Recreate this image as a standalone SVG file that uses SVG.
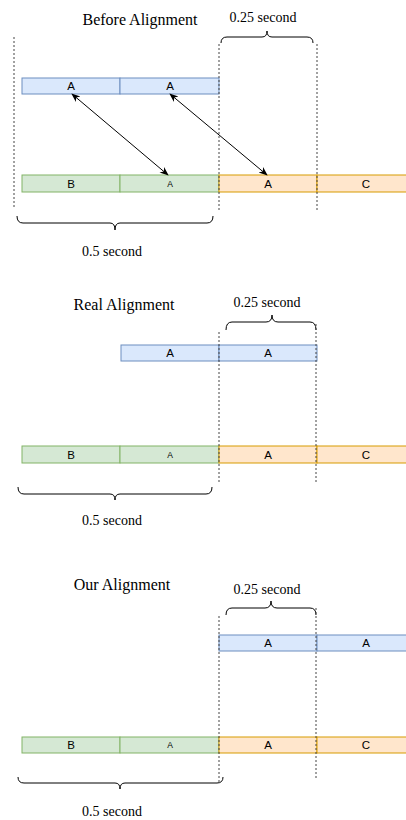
<svg xmlns="http://www.w3.org/2000/svg" width="406" height="820" viewBox="0 0 406 820">
<defs>
<style>
.title{font-family:"Liberation Serif","Times New Roman",serif;font-size:16px;fill:#000;text-anchor:middle}
.lbl{font-family:"Liberation Serif","Times New Roman",serif;font-size:14px;fill:#000;text-anchor:middle}
.cell{font-family:"Liberation Sans",Arial,sans-serif;font-size:11.5px;fill:#000;text-anchor:middle}
.small{font-family:"Liberation Sans",Arial,sans-serif;font-size:8.5px;fill:#000;text-anchor:middle}
.blue{fill:#dae8fc;stroke:#6c8ebf;stroke-width:1}
.green{fill:#d5e8d4;stroke:#82b366;stroke-width:1}
.orange{fill:#ffe6cc;stroke:#d79b00;stroke-width:1}
.dot{stroke:#444;stroke-width:1;stroke-dasharray:2 2;fill:none}
.brace{stroke:#000;stroke-width:1;fill:none}
.arrow{stroke:#000;stroke-width:1;fill:none;marker-start:url(#ah);marker-end:url(#ah)}
</style>
<marker id="ah" viewBox="0 0 10 10" refX="9" refY="5" markerWidth="9" markerHeight="9" orient="auto-start-reverse" markerUnits="userSpaceOnUse">
<path d="M0,1 L10,5 L0,9 L3,5 Z" fill="#000"/>
</marker>
</defs>

<!-- Section 1: Before Alignment -->
<g id="title1"><text class="title" x="140" y="25">Before Alignment</text></g>
<g id="label1-025"><text class="lbl" x="263" y="22">0.25 second</text></g>
<g id="brace1-top"><path class="brace" d="M221,43 Q221,37 227,37 L262,37 Q267,37 267,31 Q267,37 272,37 L307,37 Q313,37 313,43"/></g>
<g id="s1-blue-1"><rect class="blue" x="22" y="78" width="98" height="16"/><text class="cell" x="71" y="90">A</text></g>
<g id="s1-blue-2"><rect class="blue" x="120" y="78" width="99" height="16"/><text class="cell" x="170" y="90">A</text></g>
<g id="s1-green-B"><rect class="green" x="22" y="175" width="98" height="17"/><text class="cell" x="71" y="188">B</text></g>
<g id="s1-green-A"><rect class="green" x="120" y="175" width="99" height="17"/><text class="small" x="170" y="187">A</text></g>
<g id="s1-orange-A"><rect class="orange" x="219" y="175" width="98" height="17"/><text class="cell" x="268" y="188">A</text></g>
<g id="s1-orange-C"><rect class="orange" x="317" y="175" width="100" height="17"/><text class="cell" x="366" y="188">C</text></g>
<g id="brace1-bottom"><path class="brace" d="M17,216 Q17,223 23,223 L110,223 Q115,223 115,230 Q115,223 120,223 L207,223 Q213,223 213,216"/></g>
<g id="label1-05"><text class="lbl" x="112" y="256">0.5 second</text></g>

<!-- Section 2: Real Alignment -->
<g id="title2"><text class="title" x="124" y="310">Real Alignment</text></g>
<g id="label2-025"><text class="lbl" x="267" y="307">0.25 second</text></g>
<g id="brace2-top"><path class="brace" d="M226,330 Q226,322 232,322 L266,322 Q272,322 272,315 Q272,322 278,322 L310,322 Q316,322 316,330"/></g>
<g id="s2-blue-1"><rect class="blue" x="121" y="345" width="98" height="16"/><text class="cell" x="170" y="357">A</text></g>
<g id="s2-blue-2"><rect class="blue" x="219" y="345" width="98" height="16"/><text class="cell" x="268" y="357">A</text></g>
<g id="s2-green-B"><rect class="green" x="22" y="446" width="98" height="17"/><text class="cell" x="71" y="459">B</text></g>
<g id="s2-green-A"><rect class="green" x="120" y="446" width="99" height="17"/><text class="small" x="170" y="458">A</text></g>
<g id="s2-orange-A"><rect class="orange" x="219" y="446" width="98" height="17"/><text class="cell" x="268" y="459">A</text></g>
<g id="s2-orange-C"><rect class="orange" x="317" y="446" width="100" height="17"/><text class="cell" x="366" y="459">C</text></g>
<g id="brace2-bottom"><path class="brace" d="M18,487 Q18,494 24,494 L110,494 Q115,494 115,500 Q115,494 120,494 L206,494 Q212,494 212,487"/></g>
<g id="label2-05"><text class="lbl" x="112" y="525">0.5 second</text></g>

<!-- Section 3: Our Alignment -->
<g id="title3"><text class="title" x="122" y="590">Our Alignment</text></g>
<g id="label3-025"><text class="lbl" x="267" y="594">0.25 second</text></g>
<g id="brace3-top"><path class="brace" d="M226,615 Q226,608 232,608 L265,608 Q271,608 271,601 Q271,608 277,608 L310,608 Q316,608 316,615"/></g>
<g id="s3-blue-1"><rect class="blue" x="219" y="635" width="98" height="16"/><text class="cell" x="268" y="647">A</text></g>
<g id="s3-blue-2"><rect class="blue" x="317" y="635" width="100" height="16"/><text class="cell" x="366" y="647">A</text></g>
<g id="s3-green-B"><rect class="green" x="22" y="737" width="98" height="16"/><text class="cell" x="71" y="749">B</text></g>
<g id="s3-green-A"><rect class="green" x="120" y="737" width="99" height="16"/><text class="small" x="170" y="748">A</text></g>
<g id="s3-orange-A"><rect class="orange" x="219" y="737" width="98" height="16"/><text class="cell" x="268" y="749">A</text></g>
<g id="s3-orange-C"><rect class="orange" x="317" y="737" width="100" height="16"/><text class="cell" x="366" y="749">C</text></g>
<g id="brace3-bottom"><path class="brace" d="M18,777 Q18,783 24,783 L115,783 Q120,783 120,789 Q120,783 125,783 L217,783 Q223,783 223,777"/></g>
<g id="label3-05"><text class="lbl" x="112" y="816">0.5 second</text></g>

<g id="connectors">
<line class="dot" x1="14" y1="37" x2="14" y2="208"/>
<line class="dot" x1="219" y1="44" x2="219" y2="210"/>
<line class="dot" x1="317" y1="44" x2="317" y2="210"/>
<line class="dot" x1="219" y1="332" x2="219" y2="483"/>
<line class="dot" x1="316" y1="324" x2="316" y2="483"/>
<line class="dot" x1="219" y1="616" x2="219" y2="783"/>
<line class="dot" x1="316" y1="608" x2="316" y2="780"/>
<line class="arrow" x1="72" y1="94" x2="168" y2="175"/>
<line class="arrow" x1="170" y1="94" x2="267" y2="175"/>
</g>
</svg>
